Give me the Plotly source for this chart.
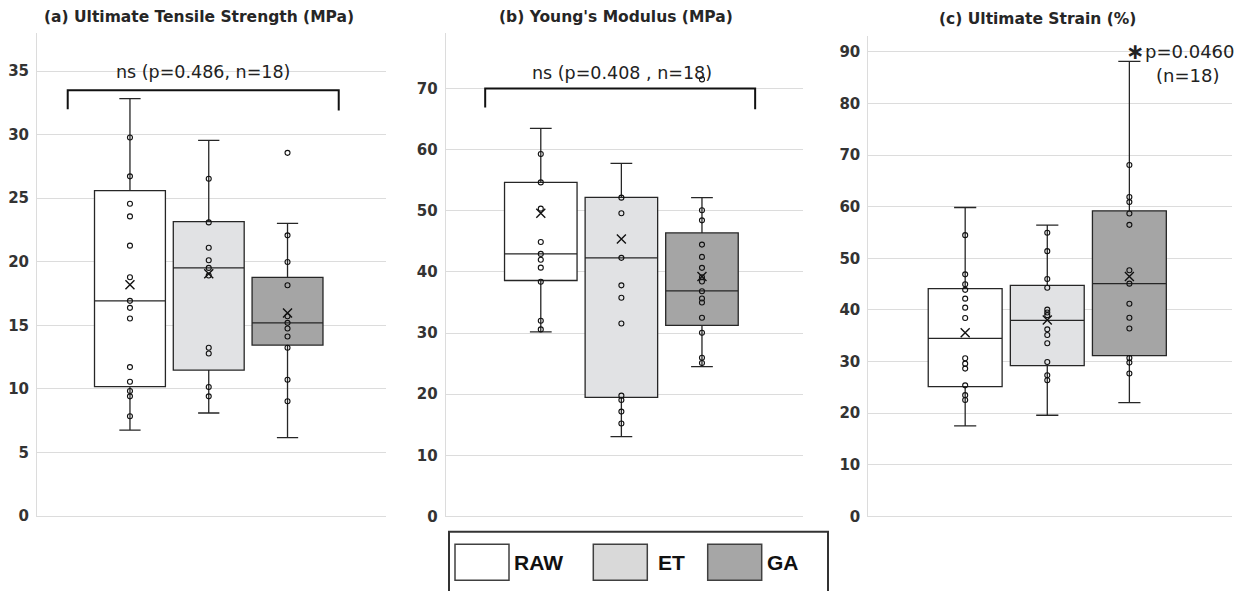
import plotly.graph_objects as go

W, H = 1242, 591
H_EFF = 583  # effective vertical scale observed in the rendered page

# ---------------- data ----------------
groups = ["RAW", "ET", "GA"]
positions = [0, 1, 2]

titles = ["(a) Ultimate Tensile Strength (MPa)", "(b) Young's Modulus (MPa)", "(c) Ultimate Strain (%)"]

# (a) Ultimate tensile strength
uts_q1 = [10.18, 11.48, 13.45]
uts_median = [16.93, 19.52, 15.20]
uts_q3 = [25.60, 23.16, 18.78]
uts_lower = [6.77, 8.11, 6.18]
uts_upper = [32.83, 29.55, 23.02]
uts_mean = [18.19, 19.07, 15.98]
uts_pts_raw = [29.78, 26.72, 24.57, 23.57, 21.27, 18.78, 16.93, 16.38, 15.54, 11.72, 10.57, 9.84, 9.42, 7.85]
uts_pts_et = [26.53, 23.10, 21.11, 20.12, 19.52, 18.92, 13.24, 12.79, 10.15, 9.42]
uts_pts_ga = [28.57, 22.08, 19.99, 18.16, 15.72, 15.20, 14.76, 14.13, 13.24, 10.73, 9.03]

# (b) Young's modulus
ym_q1 = [38.60, 19.48, 31.24]
ym_median = [42.95, 42.30, 36.90]
ym_q3 = [54.65, 52.20, 46.38]
ym_lower = [30.20, 13.06, 24.50]
ym_upper = [63.50, 57.75, 52.15]
ym_mean = [49.60, 45.40, 39.25]
ym_pts_raw = [59.3, 54.65, 50.35, 44.9, 42.95, 42.0, 40.7, 38.4, 32.0, 30.6]
ym_pts_et = [52.15, 49.6, 42.3, 37.8, 35.77, 31.57, 19.76, 19.05, 17.15, 15.19]
ym_pts_ga = [71.5, 50.08, 48.44, 44.47, 42.46, 40.67, 39.13, 38.43, 36.85, 35.65, 35.0, 32.5, 30.05, 25.97, 25.09]

# (c) Ultimate strain
us_q1 = [25.16, 29.20, 31.16]
us_median = [34.50, 38.00, 45.10]
us_q3 = [44.12, 44.77, 59.22]
us_lower = [17.53, 19.60, 22.06]
us_upper = [59.86, 56.45, 88.18]
us_mean = [35.60, 38.05, 46.50]
us_pts_raw = [54.5, 46.9, 45.0, 43.9, 42.2, 40.45, 38.44, 30.64, 29.6, 28.64, 25.4, 23.5, 22.57]
us_pts_et = [54.96, 51.4, 46.0, 44.3, 40.06, 39.5, 39.0, 36.25, 35.15, 33.54, 29.93, 27.35, 26.38]
us_pts_ga = [68.1, 61.9, 60.9, 58.7, 56.5, 47.7, 45.1, 41.2, 38.5, 36.4, 30.7, 29.8, 27.7]

y_max = [38.0, 79.1, 93.1]
y_dtick = [5, 10, 10]

stat_labels = ["ns (p=0.486, n=18)", "ns (p=0.408 , n=18)"]
sig_label = "p=0.0460"
sig_n_label = "(n=18)"

# ---------------- styling ----------------
box_fills = ["#ffffff", "#e1e2e4", "#a5a5a5"]
legend_fills = ["#ffffff", "#d9d9d9", "#a6a6a6"]
edge = "#262626"
grid = "#dcdcdc"
chart_font = "DejaVu Sans"


def pxx(x):
    return x / W


def pyy(y):
    return 1 - y / H_EFF


panels = [
    dict(q1=uts_q1, med=uts_median, q3=uts_q3, lo=uts_lower, hi=uts_upper, mean=uts_mean,
         pts=[uts_pts_raw, uts_pts_et, uts_pts_ga]),
    dict(q1=ym_q1, med=ym_median, q3=ym_q3, lo=ym_lower, hi=ym_upper, mean=ym_mean,
         pts=[ym_pts_raw, ym_pts_et, ym_pts_ga]),
    dict(q1=us_q1, med=us_median, q3=us_q3, lo=us_lower, hi=us_upper, mean=us_mean,
         pts=[us_pts_raw, us_pts_et, us_pts_ga]),
]

x_domains = [(37, 386), (445.7, 802.7), (868.3, 1232)]
y_domains = [(33, 517), (33, 517.3), (36, 517.3)]

fig = go.Figure()

for i, p in enumerate(panels):
    xa = "x" if i == 0 else f"x{i+1}"
    ya = "y" if i == 0 else f"y{i+1}"
    for g in range(3):
        fig.add_trace(go.Box(
            x=[positions[g]], q1=[p["q1"][g]], median=[p["med"][g]], q3=[p["q3"][g]],
            lowerfence=[p["lo"][g]], upperfence=[p["hi"][g]],
            width=0.9, whiskerwidth=0.3, fillcolor=box_fills[g],
            line=dict(color=edge, width=1.3), boxpoints=False,
            showlegend=False, hoverinfo="skip", xaxis=xa, yaxis=ya,
        ))
        fig.add_trace(go.Scatter(
            x=[positions[g]] * len(p["pts"][g]), y=p["pts"][g], mode="markers",
            marker=dict(symbol="circle", size=5, color="rgba(255,255,255,0)",
                        line=dict(color="#111111", width=1.1)),
            showlegend=False, hoverinfo="skip", xaxis=xa, yaxis=ya,
        ))
    fig.add_trace(go.Scatter(
        x=positions, y=p["mean"], mode="markers",
        marker=dict(symbol="x-thin", size=9, line=dict(color="#111111", width=1.4)),
        showlegend=False, hoverinfo="skip", xaxis=xa, yaxis=ya,
    ))

layout = dict(
    width=W, height=H, margin=dict(l=0, r=0, t=0, b=0),
    paper_bgcolor="white", plot_bgcolor="white", showlegend=False,
    boxmode="overlay",
)
for i in range(3):
    xk = "xaxis" if i == 0 else f"xaxis{i+1}"
    yk = "yaxis" if i == 0 else f"yaxis{i+1}"
    xd = x_domains[i]
    yd = y_domains[i]
    layout[xk] = dict(domain=[pxx(xd[0]), pxx(xd[1])], range=[-1.18, 3.25],
                      showticklabels=False, showgrid=False, zeroline=False,
                      showline=True, linecolor=grid, linewidth=1,
                      anchor="y" if i == 0 else f"y{i+1}")
    layout[yk] = dict(domain=[pyy(yd[1]), pyy(yd[0])], range=[0, y_max[i]],
                      dtick=y_dtick[i], tick0=0, showgrid=True, gridcolor=grid, gridwidth=1,
                      zeroline=False, showline=True, linecolor=grid, linewidth=1,
                      ticks="", ticklabelstandoff=4,
                      tickfont=dict(family=chart_font, size=15, color="#333333", weight="bold"),
                      anchor="x" if i == 0 else f"x{i+1}")
fig.update_layout(**layout)

annotations = []
title_pos = [(199, 17), (615.8, 17), (1037.7, 19)]
for t, (tx, ty) in zip(titles, title_pos):
    annotations.append(dict(text=t, x=pxx(tx), y=pyy(ty), xref="paper", yref="paper",
                            xanchor="center", yanchor="middle", showarrow=False,
                            font=dict(family=chart_font, size=15.5, color="#262626", weight="bold")))

# significance brackets (data coordinates)
shapes = []
shapes.append(dict(type="path", xref="x", yref="y",
                   path="M -0.79,32.0 L -0.79,33.5 L 2.65,33.5 L 2.65,31.9",
                   line=dict(color="#111111", width=2)))
shapes.append(dict(type="path", xref="x2", yref="y2",
                   path="M -0.69,66.9 L -0.69,70.0 L 2.66,70.0 L 2.66,66.6",
                   line=dict(color="#111111", width=2)))
annotations.append(dict(text=stat_labels[0], x=0.93, y=34.9, xref="x", yref="y",
                        xanchor="center", yanchor="middle", showarrow=False,
                        font=dict(family=chart_font, size=17.5, color="#222222")))
annotations.append(dict(text=stat_labels[1], x=1.01, y=72.6, xref="x2", yref="y2",
                        xanchor="center", yanchor="middle", showarrow=False,
                        font=dict(family=chart_font, size=17.5, color="#222222")))
annotations.append(dict(text="∗", x=pxx(1135), y=pyy(52), xref="paper", yref="paper",
                        xanchor="center", yanchor="middle", showarrow=False,
                        font=dict(family=chart_font, size=22, color="#222222", weight="bold")))
annotations.append(dict(text=sig_label, x=pxx(1143), y=pyy(51.7), xref="paper", yref="paper",
                        xanchor="left", yanchor="middle", showarrow=False,
                        font=dict(family=chart_font, size=18, color="#222222")))
annotations.append(dict(text=sig_n_label, x=pxx(1187.3), y=pyy(75.3), xref="paper", yref="paper",
                        xanchor="center", yanchor="middle", showarrow=False,
                        font=dict(family=chart_font, size=18, color="#222222")))

# custom legend box
shapes.append(dict(type="rect", xref="paper", yref="paper",
                   x0=pxx(449), x1=pxx(828), y0=pyy(620), y1=pyy(532.7),
                   line=dict(color="#333333", width=2), fillcolor="white"))
sw_x = [455, 593.3, 707.7]
lab_x = [512.3, 655.7, 765]
for g in range(3):
    shapes.append(dict(type="rect", xref="paper", yref="paper",
                       x0=pxx(sw_x[g]), x1=pxx(sw_x[g] + 54), y0=pyy(581.3), y1=pyy(545.3),
                       line=dict(color="#404040", width=1.5), fillcolor=legend_fills[g]))
    annotations.append(dict(text=groups[g], x=pxx(lab_x[g]), y=pyy(563.5), xref="paper", yref="paper",
                            xanchor="left", yanchor="middle", showarrow=False,
                            font=dict(family="Liberation Sans", size=21, color="#111111", weight="bold")))

fig.update_layout(shapes=shapes, annotations=annotations)
fig.write_html("out.html", config={"displayModeBar": False},
               post_script="document.body.style.margin='0';document.body.style.overflow='hidden';")
